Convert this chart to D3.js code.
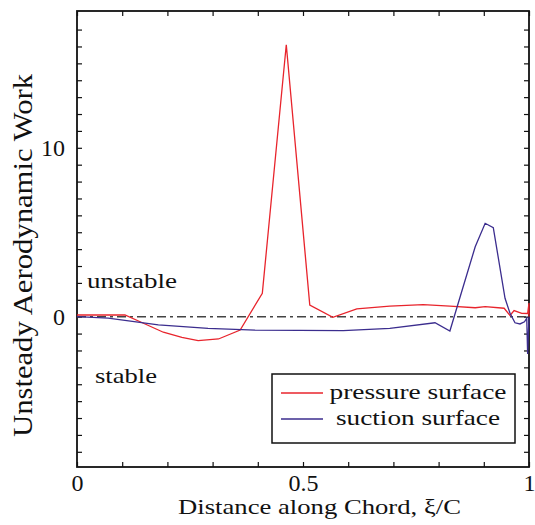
<!DOCTYPE html>
<html>
<head>
<meta charset="utf-8">
<script src="https://cdn.jsdelivr.net/npm/d3@7"></script>
<style>
  body { margin: 0; background: #fff; }
  text { font-family: "Times New Roman", "Liberation Serif", Tinos, serif; fill: #111; }
</style>
</head>
<body>
<svg id="chart" width="535" height="525"></svg>
<script>
// values
let pressureX = [0, 0.106, 0.147, 0.191, 0.232, 0.268, 0.313, 0.361, 0.41, 0.463, 0.515, 0.566, 0.619, 0.692, 0.766, 0.825, 0.881, 0.903, 0.945, 0.958, 0.967, 0.984, 0.997, 1.0, 1.0]
let pressureY = [0.1, 0.1, -0.39, -0.92, -1.22, -1.42, -1.32, -0.79, 1.39, 16.1, 0.69, -0.04, 0.46, 0.63, 0.71, 0.63, 0.53, 0.59, 0.5, 0.07, 0.36, 0.2, 0.19, 0.81, 0.0]
let suctionX = [0, 0.069, 0.18, 0.29, 0.394, 0.589, 0.692, 0.792, 0.825, 0.851, 0.881, 0.903, 0.921, 0.947, 0.958, 0.969, 0.98, 0.99, 0.995, 0.997, 1.0]
let suctionY = [0, -0.09, -0.49, -0.69, -0.79, -0.83, -0.69, -0.36, -0.85, 1.48, 4.14, 5.53, 5.27, 1.09, 0.2, -0.36, -0.43, -0.3, -0.09, -2.21, 0]
let xTicks = d3.range(0, 11).map(i => i / 10)
let xLabels = {0: "0", 0.5: "0.5", 1: "1"}
let yTicks = d3.range(-8, 18)
let yLabels = {0: "0", 10: "10"}
let legendNames = ["pressure surface", "suction surface"]
let colors = ["#e8242c", "#3b2d8e"]

let serif = '"Times New Roman", "Liberation Serif", Tinos, serif'
let svg = d3.select("#chart")
let plot = {left: 77, right: 529, top: 11, bottom: 467}

let x = d3.scaleLinear().domain([0, 1]).range([plot.left, plot.right])
let y = d3.scaleLinear().domain([-8.9, 18.1]).range([plot.bottom, plot.top])

function fmt(labels) {
  return d => labels[d] !== undefined ? labels[d] : ""
}

function style_axis(g) {
  g.attr("font-family", serif)
  g.select(".domain").remove()
  g.selectAll(".tick line").attr("stroke", "#111").attr("stroke-width", 1.2)
  g.selectAll(".tick text").attr("font-size", 24).attr("fill", "#111")
}

// frame first, so the curves at the trailing edge sit on top of it
svg.append("rect")
  .attr("x", plot.left).attr("y", plot.top)
  .attr("width", plot.right - plot.left).attr("height", plot.bottom - plot.top)
  .attr("fill", "none")
  .attr("stroke", "#111")
  .attr("stroke-width", 1.8)

svg.append("g")
  .attr("transform", `translate(0,${plot.bottom})`)
  .call(d3.axisBottom(x).tickValues(xTicks).tickSize(-5).tickPadding(7).tickFormat(fmt(xLabels)))
  .call(style_axis)
svg.append("g")
  .attr("transform", `translate(0,${plot.top})`)
  .call(d3.axisTop(x).tickValues(xTicks).tickSize(-5).tickFormat(""))
  .call(style_axis)
svg.append("g")
  .attr("transform", `translate(${plot.left},0)`)
  .call(d3.axisLeft(y).tickValues(yTicks).tickSize(-5).tickPadding(12).tickFormat(fmt(yLabels)))
  .call(style_axis)
svg.append("g")
  .attr("transform", `translate(${plot.right},0)`)
  .call(d3.axisRight(y).tickValues(yTicks).tickSize(-5).tickFormat(""))
  .call(style_axis)

// zero reference line
svg.append("line")
  .attr("x1", plot.left).attr("x2", plot.right)
  .attr("y1", y(0)).attr("y2", y(0))
  .attr("stroke", "#444")
  .attr("stroke-width", 1.5)
  .attr("stroke-dasharray", "9,4,3,4")

let line = d3.line().x(d => x(d[0])).y(d => y(d[1]))
let series = [d3.zip(pressureX, pressureY), d3.zip(suctionX, suctionY)]

svg.append("g")
  .selectAll("path")
  .data(series).enter()
  .append("path")
  .attr("d", line)
  .attr("fill", "none")
  .attr("stroke", (d, i) => colors[i])
  .attr("stroke-width", 1.3)

// text labels
svg.append("text")
  .attr("x", 87).attr("y", 288)
  .attr("font-size", 22)
  .attr("textLength", 90).attr("lengthAdjust", "spacingAndGlyphs")
  .text("unstable")
svg.append("text")
  .attr("x", 95).attr("y", 383)
  .attr("font-size", 22)
  .attr("textLength", 62).attr("lengthAdjust", "spacingAndGlyphs")
  .text("stable")

svg.append("text")
  .attr("x", 178).attr("y", 514)
  .attr("font-size", 22)
  .attr("textLength", 283).attr("lengthAdjust", "spacingAndGlyphs")
  .text("Distance along Chord, ξ/C")

svg.append("text")
  .attr("transform", "translate(32,437) rotate(-90)")
  .attr("font-size", 27)
  .attr("textLength", 363).attr("lengthAdjust", "spacingAndGlyphs")
  .text("Unsteady Aerodynamic Work")

// legend
let legend = svg.append("g")
legend.append("rect")
  .attr("x", 272).attr("y", 374)
  .attr("width", 243).attr("height", 69)
  .attr("fill", "#fff")
  .attr("stroke", "#111")
  .attr("stroke-width", 1.5)

let rows = legend.selectAll("g.row")
  .data(legendNames).enter()
  .append("g")
  .attr("class", "row")
  .attr("transform", (d, i) => `translate(0,${393 + i * 26})`)
rows.append("line")
  .attr("x1", 281).attr("x2", 323)
  .attr("stroke", (d, i) => colors[i])
  .attr("stroke-width", 1.3)
rows.append("text")
  .attr("x", 418).attr("y", 6)
  .attr("text-anchor", "middle")
  .attr("font-size", 22)
  .attr("textLength", (d, i) => i == 0 ? 177 : 164)
  .attr("lengthAdjust", "spacingAndGlyphs")
  .text(d => d)
</script>
</body>
</html>
